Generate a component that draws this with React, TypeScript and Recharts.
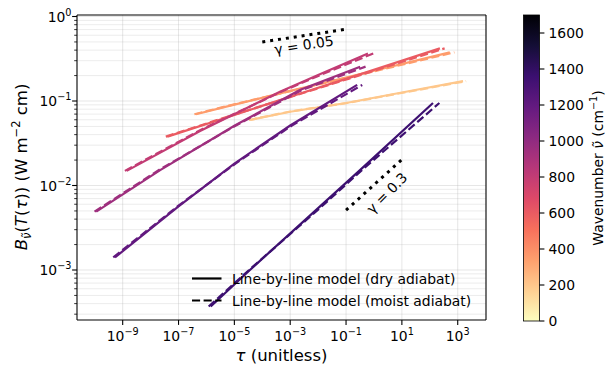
import React from 'react';
import { ComposedChart, Line, XAxis, YAxis, ReferenceLine, ReferenceDot, Legend } from 'recharts';

type Pt = [number, number];

const FONT = '"DejaVu Sans", sans-serif';

// axis limits (log axes)
const X_MIN = 2.31e-11;
const X_MAX = 1.03e4;
const Y_MIN = 2.56e-4;
const Y_MAX = 1.042;

// colour scale of the wavenumbers
const NU_MAX = 1700;
const wavenumbers = [200, 350, 600, 800, 950, 1200, 1350];

// [tau, B] along each profile, dry adiabat
const dry200: Pt[] = [[3.7e-5, 0.0596], [1.0e-3, 0.0747], [0.1, 0.0947], [10, 0.126], [1.55e3, 0.172]];
const dry350: Pt[] = [[4.2e-7, 0.0697], [1e-5, 0.0906], [4.3e-4, 0.123], [0.1, 0.19], [5.2e2, 0.377]];
const dry600: Pt[] = [[4.0e-8, 0.0379], [1e-5, 0.0684], [4.3e-4, 0.1028], [0.1, 0.183], [2.3e2, 0.42]];
const dry800: Pt[] = [[1.39e-9, 0.0149], [5.9e-7, 0.0442], [4.3e-4, 0.129], [1e-2, 0.203], [0.61, 0.365]];
const dry950: Pt[] = [[1.13e-10, 0.0049], [2.2e-8, 0.0152], [1e-5, 0.051], [2.2e-3, 0.135], [0.32, 0.255]];
const dry1200: Pt[] = [[5.3e-10, 0.00141], [1e-7, 0.00565], [1e-5, 0.0182], [1e-3, 0.0513], [0.25, 0.155]];
const dry1350: Pt[] = [[1.42e-6, 3.7e-4], [3.6e-5, 1.0e-3], [1e-2, 0.0054], [0.316, 0.0152], [1.3e2, 0.0947]];

// same, moist adiabat
const moist200: Pt[] = [[3.3e-5, 0.0596], [1.0e-3, 0.0752], [0.11, 0.0947], [12, 0.126], [2.0e3, 0.172]];
const moist350: Pt[] = [[3.7e-7, 0.0697], [1.0e-5, 0.0915], [4.6e-4, 0.123], [0.12, 0.19], [7.6e2, 0.377]];
const moist600: Pt[] = [[3.5e-8, 0.0379], [1e-5, 0.0692], [4.7e-4, 0.1028], [0.12, 0.183], [3.4e2, 0.42]];
const moist800: Pt[] = [[1.2e-9, 0.0149], [5.9e-7, 0.0452], [4.8e-4, 0.129], [1.2e-2, 0.203], [0.95, 0.365]];
const moist950: Pt[] = [[9.8e-11, 0.0049], [2.2e-8, 0.0156], [1.1e-5, 0.051], [2.6e-3, 0.135], [0.5, 0.255]];
const moist1200: Pt[] = [[4.6e-10, 0.00141], [1e-7, 0.00578], [1.1e-5, 0.0182], [1.15e-3, 0.0513], [0.38, 0.155]];
const moist1350: Pt[] = [[1.2e-6, 3.7e-4], [3.6e-5, 1.02e-3], [1.15e-2, 0.0054], [0.37, 0.0152], [2.2e2, 0.0947]];

const dryCurves = [dry200, dry350, dry600, dry800, dry950, dry1200, dry1350];
const moistCurves = [moist200, moist350, moist600, moist800, moist950, moist1200, moist1350];

// power-law guides
const gammaLow: Pt[] = [[1e-4, 0.5], [1e-1, 0.707]];
const gammaHigh: Pt[] = [[1e-1, 0.0051], [1e1, 0.0203]];
const gammaLabels = [
  { tau: 3.1e-3, b: 0.46, text: 'γ = 0.05', angle: -9 },
  { tau: 2.9, b: 0.00815, text: 'γ = 0.3', angle: -45 },
];

const xTicks = [1e-9, 1e-7, 1e-5, 1e-3, 1e-1, 1e1, 1e3];
const yMajor = [1e-3, 1e-2, 1e-1, 1];
const yMinor: number[] = [];
for (let e = -4; e <= -1; e++) {
  for (let m = 2; m <= 9; m++) {
    const v = m * 10 ** e;
    if (v >= Y_MIN && v <= Y_MAX) yMinor.push(v);
  }
}
const yTicks = [...yMinor, ...yMajor];
const cbarTicks = [0, 200, 400, 600, 800, 1000, 1200, 1400, 1600];

const legendItems = [
  { label: 'Line-by-line model (dry adiabat)', dash: undefined as string | undefined },
  { label: 'Line-by-line model (moist adiabat)', dash: '8.1 3.5' },
];

const MAGMA = ['#000004', '#140e36', '#3b0f70', '#641a80', '#8c2981', '#b73779', '#de4968', '#f7705c', '#fe9f6d', '#fecf92', '#fcfdbf'];

function magma(t: number): string {
  const s = Math.min(Math.max(t, 0), 1) * (MAGMA.length - 1);
  const i = Math.min(Math.floor(s), MAGMA.length - 2);
  const f = s - i;
  const a = parseInt(MAGMA[i].slice(1), 16);
  const b = parseInt(MAGMA[i + 1].slice(1), 16);
  const ch = (sh: number) => Math.round(((a >> sh) & 255) * (1 - f) + ((b >> sh) & 255) * f);
  return `rgb(${ch(16)},${ch(8)},${ch(0)})`;
}

// magma_r over 0..NU_MAX
const nuColor = (nu: number) => magma(1 - nu / NU_MAX);

const toPoints = (pts: Pt[]) => pts.map(([tau, b]) => ({ tau, b }));

const expText = (v: number) => {
  const e = Math.round(Math.log10(v));
  return e < 0 ? `\u2212${-e}` : `${e}`;
};

const isMajor = (v: number) => Math.abs(Math.log10(v) - Math.round(Math.log10(v))) < 1e-6;

const XTick = (props: any) => {
  const { x, y, payload } = props;
  return (
    <g>
      <line x1={x} x2={x} y1={y} y2={y + 4.9} stroke="#000" strokeWidth={1.1} />
      <text x={x} y={y + 21} textAnchor="middle" fontSize={13.9} fontFamily={FONT} fill="#000">
        10<tspan fontSize={9.7} dy={-6}>{expText(payload.value)}</tspan>
      </text>
    </g>
  );
};

const YTick = (props: any) => {
  const { x, y, payload } = props;
  if (!isMajor(payload.value)) {
    return <line x1={x} x2={x - 2.8} y1={y} y2={y} stroke="#000" strokeWidth={0.8} />;
  }
  return (
    <g>
      <line x1={x} x2={x - 4.9} y1={y} y2={y} stroke="#000" strokeWidth={1.1} />
      <text x={x - 5.5} y={y + 5} textAnchor="end" fontSize={13.9} fontFamily={FONT} fill="#000">
        10<tspan fontSize={9.7} dy={-6}>{expText(payload.value)}</tspan>
      </text>
    </g>
  );
};

const LegendBlock = () => (
  <svg width={300} height={50} style={{ overflow: 'visible' }}>
    {legendItems.map((item, i) => (
      <g key={item.label} transform={`translate(0, ${i * 22})`}>
        <line x1={7} x2={36.5} y1={13.5} y2={13.5} stroke="#000" strokeWidth={2.2} strokeDasharray={item.dash} />
        <text x={47} y={19} fontSize={13.9} fontFamily={FONT} fill="#000">{item.label}</text>
      </g>
    ))}
  </svg>
);

const CB = { x: 523.5, y: 15, w: 16, h: 306 };

const Overlay = () => {
  const cbY = (v: number) => CB.y + (1 - v / NU_MAX) * CB.h;
  return (
    <svg width={605} height={365} style={{ position: 'absolute', left: 0, top: 0, pointerEvents: 'none' }}>
      <defs>
        <linearGradient id="cbarGrad" x1="0" y1="0" x2="0" y2="1">
          {MAGMA.map((c, i) => (
            <stop key={i} offset={`${(i / (MAGMA.length - 1)) * 100}%`} stopColor={c} />
          ))}
        </linearGradient>
      </defs>
      <rect x={CB.x} y={CB.y} width={CB.w} height={CB.h} fill="url(#cbarGrad)" stroke="#000" strokeWidth={0.8} />
      {cbarTicks.map((v) => (
        <g key={v}>
          <line x1={CB.x + CB.w} x2={CB.x + CB.w + 4.9} y1={cbY(v)} y2={cbY(v)} stroke="#000" strokeWidth={1.1} />
          <text x={CB.x + CB.w + 9} y={cbY(v) + 5} fontSize={13.9} fontFamily={FONT} fill="#000">{v}</text>
        </g>
      ))}
      <text transform="translate(603, 168) rotate(-90)" textAnchor="middle" fontSize={13.9} fontFamily={FONT} fill="#000">
        Wavenumber <tspan fontStyle="italic">{'ν\u0303'}</tspan> (cm<tspan fontSize={9.7} dy={-6}>{'\u22121'}</tspan><tspan dy={6}>)</tspan>
      </text>
      <text x={281.5} y={361} textAnchor="middle" fontSize={16.5} fontFamily={FONT} fill="#000">
        <tspan fontStyle="italic">τ</tspan> (unitless)
      </text>
      <text transform="translate(26.5, 167) rotate(-90)" textAnchor="middle" fontSize={16.5} fontFamily={FONT} fill="#000">
        <tspan fontStyle="italic">B</tspan>
        <tspan fontSize={11.5} dy={4} fontStyle="italic">{'ν\u0303'}</tspan>
        <tspan dy={-4}>(</tspan>
        <tspan fontStyle="italic">T</tspan>
        <tspan>(</tspan>
        <tspan fontStyle="italic">τ</tspan>
        <tspan>)) (W m</tspan>
        <tspan fontSize={11.5} dy={-7}>{'\u22122'}</tspan>
        <tspan dy={7}> cm)</tspan>
      </text>
    </svg>
  );
};

export default function App() {
  return (
    <div style={{ position: 'absolute', left: 0, top: 0, width: 605, height: 365, background: '#fff' }}>
      <ComposedChart width={605} height={365} margin={{ top: 15, right: 119, bottom: 44, left: 76 }}>
        <XAxis
          dataKey="tau"
          type="number"
          scale="log"
          domain={[X_MIN, X_MAX]}
          allowDataOverflow
          ticks={xTicks}
          interval={0}
          tick={(p: any) => <XTick {...p} />}
          tickLine={false}
          tickSize={0}
          tickMargin={0}
          height={1}
          axisLine={{ stroke: '#000', strokeWidth: 1.1 }}
        />
        <YAxis
          dataKey="b"
          type="number"
          scale="log"
          domain={[Y_MIN, Y_MAX]}
          allowDataOverflow
          ticks={yTicks}
          interval={0}
          tick={(p: any) => <YTick {...p} />}
          tickLine={false}
          tickSize={0}
          tickMargin={0}
          width={1}
          axisLine={{ stroke: '#000', strokeWidth: 1.1 }}
        />
        {xTicks.map((v) => (
          <ReferenceLine key={`gx${v}`} x={v} stroke="#b0b0b0" strokeOpacity={0.4} strokeWidth={0.8} />
        ))}
        {yTicks.map((v) => (
          <ReferenceLine key={`gy${v}`} y={v} stroke="#b0b0b0" strokeOpacity={isMajor(v) ? 0.4 : 0.3} strokeWidth={0.8} />
        ))}
        {wavenumbers.flatMap((nu, i) => [
          <Line
            key={`dry${nu}`}
            data={toPoints(dryCurves[i])}
            dataKey="b"
            type="linear"
            stroke={nuColor(nu)}
            strokeWidth={2.2}
            dot={false}
            isAnimationActive={false}
          />,
          <Line
            key={`moist${nu}`}
            data={toPoints(moistCurves[i])}
            dataKey="b"
            type="linear"
            stroke={nuColor(nu)}
            strokeWidth={2.2}
            strokeDasharray="8.1 3.5"
            dot={false}
            isAnimationActive={false}
          />,
        ])}
        <Line data={toPoints(gammaLow)} dataKey="b" stroke="#000" strokeWidth={3} strokeDasharray="3 4.95" dot={false} isAnimationActive={false} />
        <Line data={toPoints(gammaHigh)} dataKey="b" stroke="#000" strokeWidth={3} strokeDasharray="3 4.95" dot={false} isAnimationActive={false} />
        {gammaLabels.map((g) => (
          <ReferenceDot
            key={g.text}
            x={g.tau}
            y={g.b}
            r={0}
            ifOverflow="visible"
            shape={(p: any) => (
              <text
                x={p.cx}
                y={p.cy}
                transform={`rotate(${g.angle} ${p.cx} ${p.cy})`}
                textAnchor="middle"
                dominantBaseline="central"
                fontSize={13.9}
                fontFamily={FONT}
                fill="#000"
              >
                {g.text}
              </text>
            )}
          />
        ))}
        <ReferenceLine y={Y_MAX} stroke="#000" strokeWidth={1.1} ifOverflow="visible" />
        <ReferenceLine x={X_MAX} stroke="#000" strokeWidth={1.1} ifOverflow="visible" />
        <Legend
          layout="vertical"
          align="center"
          verticalAlign="middle"
          content={() => <LegendBlock />}
          wrapperStyle={{ left: 185, top: 265, width: 300, height: 50 }}
        />
      </ComposedChart>
      <Overlay />
    </div>
  );
}
